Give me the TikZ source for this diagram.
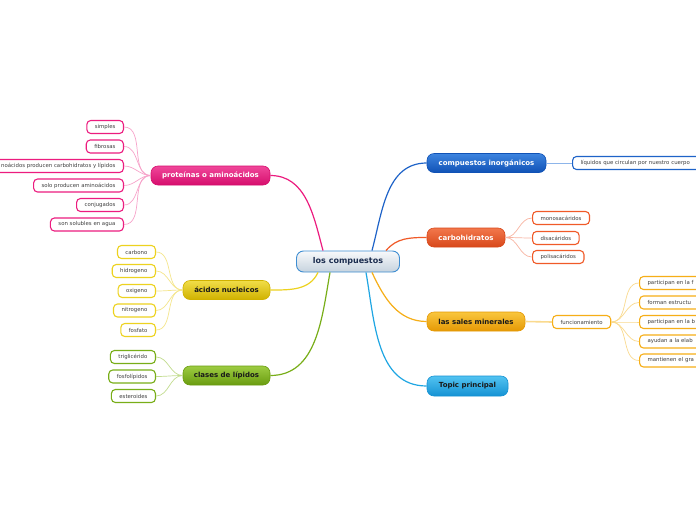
\documentclass[tikz,border=0pt]{standalone}
\usepackage{fontspec}
\setmainfont{DejaVu Sans}
\definecolor{rootT}{HTML}{F8F9FB}\definecolor{rootB}{HTML}{C6D3DE}\definecolor{rootL}{HTML}{3F8ED2}\definecolor{rootX}{HTML}{1B2D4F}
\definecolor{protT}{HTML}{F0479A}\definecolor{protB}{HTML}{D60E6D}\definecolor{protL}{HTML}{EC1C7F}\definecolor{protW}{HTML}{F7A3CA}
\definecolor{inorgT}{HTML}{3D84DF}\definecolor{inorgB}{HTML}{1052B6}\definecolor{inorgL}{HTML}{1E63C8}\definecolor{inorgW}{HTML}{8DB5EA}
\definecolor{carboT}{HTML}{F2774C}\definecolor{carboB}{HTML}{D8481A}\definecolor{carboL}{HTML}{F05A28}\definecolor{carboW}{HTML}{F8B5A2}
\definecolor{salesT}{HTML}{F9C63E}\definecolor{salesB}{HTML}{E59905}\definecolor{salesL}{HTML}{F6AE17}\definecolor{salesW}{HTML}{FADA8E}
\definecolor{princT}{HTML}{52C3F1}\definecolor{princB}{HTML}{1592D3}\definecolor{princL}{HTML}{1FA6E3}
\definecolor{acidT}{HTML}{F1DD48}\definecolor{acidB}{HTML}{D0B200}\definecolor{acidL}{HTML}{EDD21F}\definecolor{acidW}{HTML}{F5E68C}
\definecolor{lipidT}{HTML}{9DCC42}\definecolor{lipidB}{HTML}{6A9C10}\definecolor{lipidL}{HTML}{78AE18}\definecolor{lipidW}{HTML}{C2DC8E}
\tikzset{
  root/.style={draw=rootL,line width=0.9pt,rounded corners=7pt,top color=rootT,bottom color=rootB,
    text=rootX,font=\fontsize{8}{9}\selectfont\bfseries,minimum width=103,minimum height=21},
  topic/.style={draw=#1B,line width=0.6pt,rounded corners=7pt,top color=#1T,bottom color=#1B,
    font=\fontsize{7}{8}\selectfont\bfseries,minimum height=19,inner xsep=0},
  leaf/.style={draw=#1,line width=1.1pt,rounded corners=4pt,fill=white,text=black!75,
    font=\fontsize{5.4}{6}\selectfont,minimum height=13,inner xsep=8,inner ysep=0},
  branch/.style={draw=#1,line width=1.2pt},
  twig/.style={draw=#1,line width=0.7pt}
}
\begin{document}
\begin{tikzpicture}[x=1pt,y=-1pt]
\clip (0,0) rectangle (696,520);
\fill[white] (0,0) rectangle (696,520);
\node[root] (root) at (348,261.5) {los compuestos};
\node[topic=prot,text=white,minimum width=119] (prot) at (210.5,175.5) {proteínas o aminoácidos};
\node[topic=inorg,text=white,minimum width=119] (inorg) at (486.5,163) {compuestos inorgánicos};
\node[topic=carbo,text=white,minimum width=78] (carbo) at (466,237.5) {carbohidratos};
\node[topic=sales,text=black!90,minimum width=98] (sales) at (476,321.5) {las sales minerales};
\node[topic=princ,text=black!90,minimum width=81,minimum height=20] (princ) at (467.5,386) {Topic principal};
\node[topic=acid,text=black!90,minimum width=87] (acid) at (226.5,290) {ácidos nucleicos};
\node[topic=lipid,text=black!90,minimum width=87] (lipid) at (226.5,375.5) {clases de lípidos};
\draw[branch=protL] ([xshift=-25]root.north) to[out=105,in=0] (prot.east);
\draw[branch=inorgL] ([xshift=24]root.north) to[out=75,in=180] (inorg.west);
\draw[branch=carboL] ([xshift=38]root.north) to[out=50,in=180] (carbo.west);
\draw[branch=acidL] ([xshift=-30]root.south) to[out=-115,in=0] (acid.east);
\draw[branch=lipidL] ([xshift=-18]root.south) to[out=-100,in=0] (lipid.east);
\draw[branch=salesL] ([xshift=24]root.south) to[out=-65,in=180] (sales.west);
\draw[branch=princL] ([xshift=18]root.south) to[out=-80,in=180] (princ.west);
\node[leaf=inorgL,anchor=west,text width=120,align=left] (liq) at (572,163) {líquidos que circulan por nuestro cuerpo};
\draw[twig=inorgW] (inorg.east) -- (liq.west);
\node[leaf=salesL,anchor=west] (func) at (552,322) {funcionamiento};
\draw[salesW,line width=1.6pt] (sales.east) -- (func.west);
\foreach \t/\y [count=\i] in {simples/127,fibrosas/146.5,noácidos producen carbohidratos y lípidos/166,
    solo producen aminoácidos/185.5,conjugados/205,son solubles en agua/224.5} {
  \node[leaf=protL,anchor=east] (p\i) at (124,\y) {\t};
  \draw[twig=protW] (prot.west) to[out=180,in=0] (p\i.east);
}
\foreach \t/\y [count=\i] in {carbono/252,hidrogeno/271,oxigeno/291,nitrogeno/310.5,fosfato/330} {
  \node[leaf=acidL,anchor=east] (a\i) at (156,\y) {\t};
  \draw[twig=acidW] (acid.west) to[out=180,in=0] (a\i.east);
}
\foreach \t/\y [count=\i] in {triglicérido/357,fosfolípidos/376.5,esteroides/396} {
  \node[leaf=lipidL,anchor=east] (l\i) at (156,\y) {\t};
  \draw[twig=lipidW] (lipid.west) to[out=180,in=0] (l\i.east);
}
\foreach \t/\y [count=\i] in {monosacáridos/218,disacáridos/238,polisacáridos/257} {
  \node[leaf=carboL,anchor=west] (c\i) at (532,\y) {\t};
  \draw[twig=carboW] (carbo.east) to[out=0,in=180] (c\i.west);
}
\foreach \t/\y [count=\i] in {participan en la f/283,forman estructu/302.5,participan en la b/322,
    ayudan a la elab/341.5,mantienen el gra/360.5} {
  \node[leaf=salesL,anchor=west,text width=70,align=left] (s\i) at (639,\y) {\t};
  \draw[twig=salesW] (func.east) to[out=0,in=180] (s\i.west);
}
\end{tikzpicture}
\end{document}
